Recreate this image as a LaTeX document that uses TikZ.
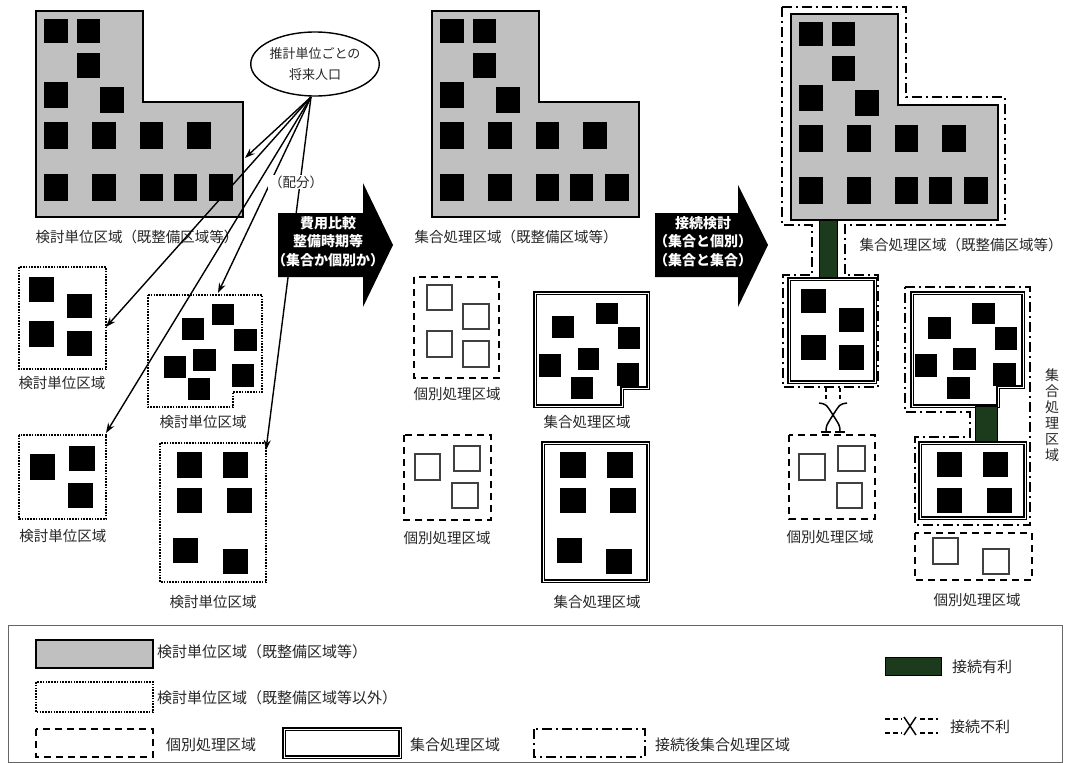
\documentclass[tikz,border=0pt]{standalone}
\usepackage{fontspec}
\newfontfamily\jp{Noto Sans CJK JP}
\usetikzlibrary{arrows.meta,shapes.geometric}
\definecolor{lgray}{RGB}{192,192,192}
\definecolor{dgreen}{RGB}{28,58,28}
\newcommand\bsqs[1]{\foreach \xa/\ya/\xb/\yb in {#1}{\fill[black] (\xa,\ya) rectangle (\xb,\yb);}}
\newcommand\esqs[1]{\foreach \xa/\ya/\xb/\yb in {#1}{\draw[esq] (\xa,\ya) rectangle (\xb,\yb);}}
\newcommand\LBuilding{%
  \draw[lshape] (36,11) -- (143,11) -- (143,102) -- (243,102) -- (243,217) -- (36,217) -- cycle;
  \bsqs{44/19/68/43, 77/19/100/43, 77/53/100/78, 44/82/68/108, 100/87/124/113, 44/122/68/149, 92/122/116/149, 140/122/163/149, 187/122/211/149, 44/174/68/201, 92/174/116/201, 140/174/163/201, 174/174/197/201, 209/174/233/201}}
\begin{document}
\begin{tikzpicture}[x=1pt,y=-1pt,
  lshape/.style={fill=lgray,draw=black,line width=1.6pt},
  dotbox/.style={draw=black,line width=1.7pt,dash pattern=on 1.6pt off 1.2pt},
  dashbox/.style={draw=black,line width=1.6pt,dash pattern=on 7pt off 5pt},
  solidbox/.style={draw=black,line width=1.3pt,double,double distance=0.9pt},
  ddbox/.style={draw=black,line width=1.5pt,dash pattern=on 10pt off 4pt on 2pt off 4pt},
  esq/.style={draw=black!75,line width=1.2pt},
  conn/.style={draw=black,line width=1.4pt,-{Stealth[length=10pt,width=7pt]}},
  lbl/.style={font=\jp\fontsize{14.5}{17}\selectfont,inner sep=0pt,text=black!85},
  ltxt/.style={font=\jp\fontsize{15}{17}\selectfont,inner sep=0pt,anchor=west,text=black!85},
  atext/.style={font=\jp\bfseries\fontsize{14}{18.5}\selectfont,text=white,align=center,inner sep=0pt},
  gbar/.style={fill=dgreen,draw=black,line width=0.5pt},
  ngx/.style={draw=black,line width=1.5pt}
]
\useasboundingbox (0,0) rectangle (1069,763);

% ---------- left column ----------
\LBuilding
\node[lbl] (labA) at (137,237) {検討単位区域（既整備区域等）};

\draw[dotbox] (19,267) rectangle (106,369);
\bsqs{29/277/54/302, 67/294/92/318, 29/321/54/347, 67/331/92/356}
\node[lbl] (labB) at (62,383) {検討単位区域};

\draw[dotbox] (148,295) -- (262,295) -- (262,392) -- (233,392) -- (233,407) -- (148,407) -- cycle;
\bsqs{182/318/204/340, 212/304/234/325, 234/329/257/351, 164/356/186/378, 193/349/216/371, 232/364/254/387, 188/378/210/400}
\node[lbl] (labC) at (203,422) {検討単位区域};

\draw[dotbox] (19,435) rectangle (106,519);
\bsqs{30/454/55/480, 69/446/95/471, 68/483/93/508}
\node[lbl] (labD) at (63,536) {検討単位区域};

\draw[dotbox] (160,443) rectangle (266,582);
\bsqs{177/452/202/478, 223/452/248/478, 177/488/202/513, 227/488/252/513, 173/538/198/563, 223/549/248/574}
\node[lbl] (labE) at (213,602) {検討単位区域};

% ---------- population ellipse and allocation arrows ----------
\node[draw=black,ellipse,line width=1.4pt,minimum width=120pt,minimum height=64pt,inner sep=0pt,align=center,
      font=\jp\fontsize{13}{21}\selectfont,text=black!85] (pop) at (315,64) {推計単位ごとの\\将来人口};
\coordinate (src) at (311,97);
\coordinate (t1) at (245,158);
\coordinate (t2) at (106,327);
\coordinate (t3) at (106,433);
\coordinate (t4) at (218,293);
\coordinate (t5) at (266,450);
\draw[conn] (src) -- (t1);
\draw[conn] (src) -- (t2);
\draw[conn] (src) -- (t3);
\draw[conn] (src) -- (t4);
\draw[conn] (src) -- (t5);
\node[font=\jp\fontsize{13.5}{16}\selectfont,fill=white,inner sep=1pt,text=black!85] (haibun) at (296,182) {（配分）};

% ---------- big arrow 1 ----------
\fill[black] (278,213) -- (363,213) -- (363,183) -- (393,245) -- (363,307) -- (363,277) -- (278,277) -- cycle;
\node[atext] (arrA) at (328,241.5) {費用比較\\整備時期等\\（集合か個別か）};

% ---------- middle column ----------
\begin{scope}[shift={(396,0)}]
\LBuilding
\end{scope}
\node[lbl] (labF) at (516,237) {集合処理区域（既整備区域等）};

\draw[dashbox] (414,277) rectangle (499,378);
\esqs{427/285/452/310, 463/304/489/329, 427/331/452/357, 463/341/489/367}
\node[lbl] (labG) at (457,394) {個別処理区域};

\draw[solidbox] (535,293) -- (648,293) -- (648,388) -- (622,388) -- (622,406) -- (535,406) -- cycle;
\bsqs{552/316/574/338, 596/303/618/324, 618/327/640/349, 539/354/561/377, 578/348/599/370, 617/363/639/386, 571/377/593/399}
\node[lbl] (labH) at (587,422) {集合処理区域};

\draw[dashbox] (404,435) rectangle (491,520);
\esqs{415/454/440/480, 454/446/480/471, 452/483/478/508}
\node[lbl] (labI) at (447,538) {個別処理区域};

\draw[solidbox] (543,443) rectangle (648,581);
\bsqs{560/452/586/478, 607/452/633/478, 560/488/586/513, 610/488/636/513, 557/538/582/563, 606/549/632/574}
\node[lbl] (labJ) at (597,602) {集合処理区域};

% ---------- big arrow 2 ----------
\fill[black] (655,213) -- (738,213) -- (738,185) -- (768,245) -- (738,307) -- (738,277) -- (655,277) -- cycle;
\node[atext] (arrB) at (703,241.5) {接続検討\\（集合と個別）\\（集合と集合）};

% ---------- right column ----------
\draw[ddbox] (782,7) -- (906,7) -- (906,97) -- (1005,97) -- (1005,225) -- (845,225) -- (845,275) -- (878,275)
  -- (878,387) -- (783,387) -- (783,275) -- (812,275) -- (812,225) -- (782,225) -- cycle;
\begin{scope}[shift={(755,3)}]
\LBuilding
\end{scope}
\draw[gbar] (819,220) rectangle (837,279);
\node[lbl] (labK) at (961,245) {集合処理区域（既整備区域等）};

\draw[solidbox] (789,279) rectangle (875,382);
\bsqs{801/289/826/313, 839/308/864/332, 801/335/826/360, 839/345/864/370}

% unfavourable connection symbol
\draw[line width=1.4pt,dash pattern=on 4pt off 3pt] (826,388) -- (826,402);
\draw[line width=1.4pt,dash pattern=on 4pt off 3pt] (840,388) -- (840,402);
\draw[ngx] (819,403) .. controls (826,404) .. (833,415) .. controls (840,426) .. (840,432);
\draw[ngx] (847,403) .. controls (840,404) .. (833,415) .. controls (826,426) .. (826,432);
\draw[ngx] (821,432) -- (831,432);
\draw[ngx] (835,432) -- (845,432);

\draw[dashbox] (789,435) rectangle (875,519);
\esqs{799/454/825/480, 838/446/865/471, 837/483/862/508}
\node[lbl] (labL) at (830,537) {個別処理区域};

\draw[ddbox] (905,287) -- (1030,287) -- (1030,525) -- (915,525) -- (915,437) -- (970,437) -- (970,412) -- (905,412) -- cycle;
\draw[solidbox] (912,293) -- (1023,293) -- (1023,387) -- (998,387) -- (998,406) -- (912,406) -- cycle;
\bsqs{928/317/951/339, 972/303/995/324, 995/327/1017/350, 915/354/937/377, 953/348/976/370, 993/363/1016/386, 947/377/970/399}
\draw[gbar] (975,406) rectangle (997,443);
\draw[solidbox] (920,443) rectangle (1025,518);
\bsqs{937/452/962/477, 983/452/1008/477, 937/488/962/513, 987/488/1012/513}
\node[lbl,align=center,font=\jp\fontsize{14}{16}\selectfont] (labM) at (1052,415) {集\\合\\処\\理\\区\\域};

\draw[dashbox] (915,533) rectangle (1032,580);
\esqs{933/538/958/564, 983/549/1009/574}
\node[lbl] (labN) at (977,600) {個別処理区域};

% ---------- legend ----------
\draw[draw=black!60,line width=1pt] (8,625) rectangle (1062,762);
\draw[lshape] (36,640) rectangle (153,668);
\node[ltxt] (lg1) at (157,652) {検討単位区域（既整備区域等）};
\draw[dotbox] (36,682) rectangle (153,712);
\node[ltxt] (lg2) at (157,698) {検討単位区域（既整備区域等以外）};
\draw[dashbox] (36,729) rectangle (153,757);
\node[ltxt] (lg3) at (166,745) {個別処理区域};
\draw[solidbox] (284,729) rectangle (400,757);
\node[ltxt] (lg4) at (410,745) {集合処理区域};
\draw[ddbox] (534,729) rectangle (645,757);
\node[ltxt] (lg5) at (655,745) {接続後集合処理区域};
\draw[gbar] (885,657) rectangle (941,675);
\node[ltxt] (lg6) at (952,667) {接続有利};
\draw[line width=1.4pt,dash pattern=on 5pt off 3pt] (885,719) -- (902,719);
\draw[line width=1.4pt,dash pattern=on 5pt off 3pt] (885,733) -- (902,733);
\draw[line width=1.4pt,dash pattern=on 5pt off 3pt] (920,719) -- (938,719);
\draw[line width=1.4pt,dash pattern=on 5pt off 3pt] (920,733) -- (938,733);
\draw[ngx] (904,717) -- (916,735);
\draw[ngx] (916,717) -- (904,735);
\node[ltxt] (lg7) at (950,727) {接続不利};
\end{tikzpicture}
\end{document}
